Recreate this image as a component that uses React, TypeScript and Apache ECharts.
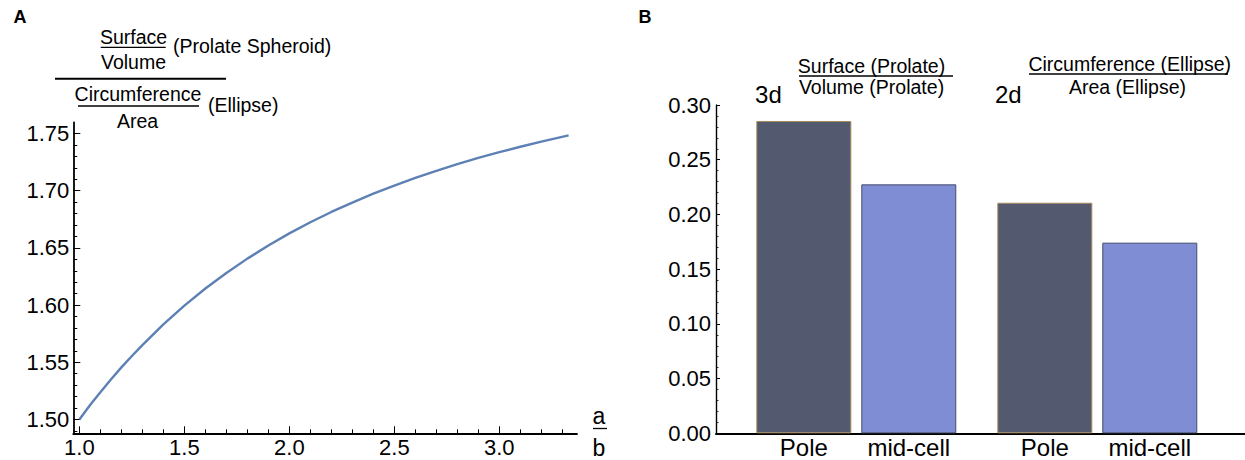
import React, { useEffect, useRef } from "react";
import * as echarts from "echarts";

// ---------- Panel A data ----------
const ratioX = [1.0, 1.05, 1.1, 1.15, 1.2, 1.25, 1.3, 1.4, 1.5, 1.6, 1.7, 1.8, 1.9, 2.0, 2.1, 2.2, 2.3, 2.4, 2.5, 2.6, 2.7, 2.8, 2.9, 3.0, 3.1, 3.2, 3.33];
const ratioY = [1.5, 1.5124, 1.5238, 1.535, 1.5455, 1.5555, 1.565, 1.5832, 1.5995, 1.6145, 1.628, 1.6406, 1.652, 1.6627, 1.6724, 1.6814, 1.6896, 1.6974, 1.7045, 1.7112, 1.7173, 1.7232, 1.7286, 1.7337, 1.7384, 1.7429, 1.7484];
const xMajorTicks = [1.0, 1.5, 2.0, 2.5, 3.0];
const xMinorTicks = [1.1, 1.2, 1.3, 1.4, 1.6, 1.7, 1.8, 1.9, 2.1, 2.2, 2.3, 2.4, 2.6, 2.7, 2.8, 2.9, 3.1, 3.2, 3.3];
const yMajorTicks = [1.5, 1.55, 1.6, 1.65, 1.7, 1.75];
const yMinorTicks = [1.49, 1.51, 1.52, 1.53, 1.54, 1.56, 1.57, 1.58, 1.59, 1.61, 1.62, 1.63, 1.64, 1.66, 1.67, 1.68, 1.69, 1.71, 1.72, 1.73, 1.74, 1.76];

// ---------- Panel B data ----------
const groups = ["3d", "2d"];
const poleValues = [0.2854, 0.2107];
const midCellValues = [0.2275, 0.1742];
const seriesNames = ["Pole", "mid-cell"];

const FONT = '"Liberation Sans", Arial, sans-serif';

function txt(text: string, x: number, y: number, size: number, align: string = "center", weight: string = "normal") {
  return {
    type: "text",
    x,
    y,
    silent: true,
    style: {
      text,
      fill: "#000",
      fontSize: size,
      fontFamily: FONT,
      fontWeight: weight,
      textAlign: align,
      textVerticalAlign: "middle",
    },
  };
}
function hline(x1: number, x2: number, y: number, w: number) {
  return {
    type: "line",
    silent: true,
    shape: { x1, y1: y, x2, y2: y },
    style: { stroke: "#000", lineWidth: w },
  };
}

export default function App() {
  const ref = useRef<HTMLDivElement>(null);
  useEffect(() => {
    document.body.style.margin = "0";
    const chart = echarts.init(ref.current!, null, { renderer: "svg" });
    const axisText = { fontSize: 22, color: "#000", fontFamily: FONT };
    const option: any = {
      animation: false,
      backgroundColor: "#fff",
      grid: [
        { left: 73.3, top: 122.5, width: 503.7, height: 310.8, containLabel: false },
        { left: 716, top: 105, width: 529, height: 328.3, containLabel: false },
        { left: 735.8, top: 105, width: 482, height: 328.3, containLabel: false },
      ],
      xAxis: [
        {
          gridIndex: 0,
          type: "value",
          min: 0.971,
          max: 3.37,
          position: "bottom",
          axisLine: { show: true, onZero: false, lineStyle: { color: "#000", width: 1.8 } },
          axisTick: { show: true, inside: true, length: 7, customValues: xMajorTicks, lineStyle: { color: "#000", width: 1 } },
          axisLabel: { show: true, customValues: xMajorTicks, margin: 3, formatter: (v: number) => v.toFixed(1), ...axisText },
          splitLine: { show: false },
        },
        {
          gridIndex: 0,
          type: "value",
          min: 0.971,
          max: 3.37,
          position: "bottom",
          axisLine: { show: false, onZero: false },
          axisTick: { show: true, inside: true, length: 4, customValues: xMinorTicks, lineStyle: { color: "#000", width: 1 } },
          axisLabel: { show: false },
          splitLine: { show: false },
        },
        {
          gridIndex: 1,
          type: "value",
          min: 0,
          max: 1,
          axisLine: { show: true, onZero: false, lineStyle: { color: "#000", width: 2 } },
          axisTick: { show: false },
          axisLabel: { show: false },
          splitLine: { show: false },
        },
        {
          gridIndex: 2,
          type: "category",
          data: groups,
          show: false,
        },
      ],
      yAxis: [
        {
          gridIndex: 0,
          type: "value",
          min: 1.4879,
          max: 1.7596,
          position: "left",
          axisLine: { show: true, onZero: false, lineStyle: { color: "#000", width: 1.8 } },
          axisTick: { show: true, inside: true, length: 7, customValues: yMajorTicks, lineStyle: { color: "#000", width: 1 } },
          axisLabel: { show: true, customValues: yMajorTicks, margin: 4, formatter: (v: number) => v.toFixed(2), ...axisText },
          splitLine: { show: false },
        },
        {
          gridIndex: 0,
          type: "value",
          min: 1.4879,
          max: 1.7596,
          position: "left",
          axisLine: { show: false, onZero: false },
          axisTick: { show: true, inside: true, length: 4, customValues: yMinorTicks, lineStyle: { color: "#000", width: 1 } },
          axisLabel: { show: false },
          splitLine: { show: false },
        },
        {
          gridIndex: 1,
          type: "value",
          min: 0,
          max: 0.3,
          interval: 0.05,
          axisLine: { show: true, onZero: false, lineStyle: { color: "#000", width: 1.4 } },
          axisTick: { show: true, inside: true, length: 4, lineStyle: { color: "#000", width: 1 } },
          minorTick: { show: true, splitNumber: 5, length: 2.5, lineStyle: { color: "#000", width: 0.8 } },
          axisLabel: { show: true, margin: 5, formatter: (v: number) => v.toFixed(2), ...axisText },
          splitLine: { show: false },
          minorSplitLine: { show: false },
        },
        {
          gridIndex: 2,
          type: "value",
          min: 0,
          max: 0.3,
          show: false,
        },
      ],
      series: [
        {
          type: "line",
          xAxisIndex: 0,
          yAxisIndex: 0,
          data: ratioX.map((x, i) => [x, ratioY[i]]),
          showSymbol: false,
          smooth: false,
          lineStyle: { color: "#5e81b5", width: 2.4 },
          z: 3,
        },
        {
          type: "bar",
          name: seriesNames[0],
          xAxisIndex: 3,
          yAxisIndex: 3,
          data: poleValues,
          barWidth: 95,
          barGap: "10.5%",
          itemStyle: { color: "#535a6f", borderColor: "#a88b5e", borderWidth: 1 },
          label: { show: true, position: "bottom", distance: 2, formatter: "{a}", fontSize: 24, color: "#000", fontFamily: FONT },
        },
        {
          type: "bar",
          name: seriesNames[1],
          xAxisIndex: 3,
          yAxisIndex: 3,
          data: midCellValues,
          barWidth: 95,
          barGap: "10.5%",
          itemStyle: { color: "#7f8dd4", borderColor: "#454d6d", borderWidth: 1 },
          label: { show: true, position: "bottom", distance: 2, formatter: "{a}", fontSize: 24, color: "#000", fontFamily: FONT },
        },
      ],
      graphic: [
        txt("A", 20, 17, 18, "center", "bold"),
        txt("B", 645, 17, 18, "center", "bold"),
        // Panel A header
        txt("Surface", 133.5, 37, 19.5),
        hline(100.7, 165.7, 47.3, 1.3),
        txt("Volume", 133.5, 62, 19.5),
        txt("(Prolate Spheroid)", 173, 46, 19.5, "left"),
        hline(55, 226, 78.7, 2),
        txt("Circumference", 138, 94, 19.5),
        hline(78, 199, 106, 1.3),
        txt("(Ellipse)", 208, 105, 19.5, "left"),
        txt("Area", 137.5, 121, 19.5),
        // x axis label a/b
        txt("a", 599, 416, 23),
        hline(593, 607, 428.5, 1.3),
        txt("b", 599, 448, 23),
        // Panel B header
        txt("3d", 768.4, 94, 24),
        txt("Surface (Prolate)", 871.5, 66, 19.5),
        hline(799, 953, 76, 1.3),
        txt("Volume (Prolate)", 871.5, 87, 19.5),
        txt("2d", 1008.3, 94, 24),
        txt("Circumference (Ellipse)", 1129.7, 64, 19.5),
        hline(1029, 1228, 74, 1.3),
        txt("Area (Ellipse)", 1127.5, 87, 19.5),
      ],
    };
    chart.setOption(option);
    return () => chart.dispose();
  }, []);
  return <div ref={ref} style={{ width: 1245, height: 460 }} />;
}
